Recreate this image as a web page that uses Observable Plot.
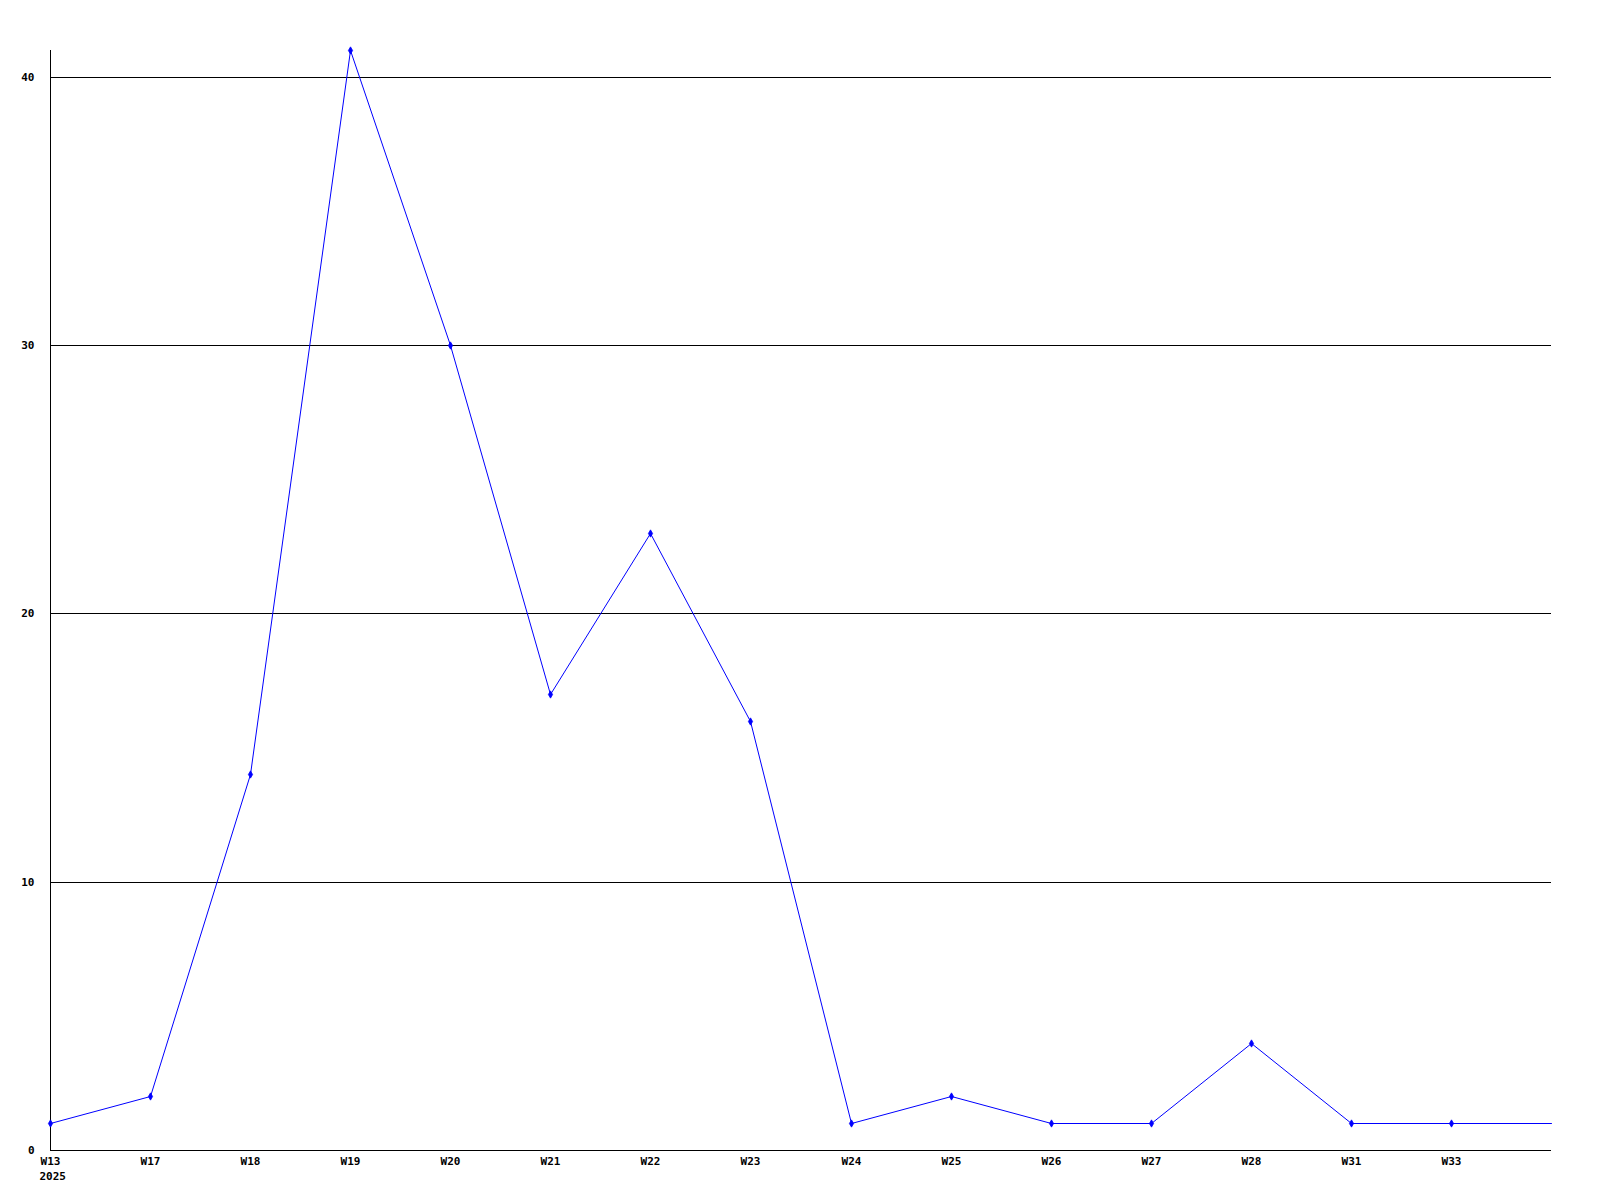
<!DOCTYPE html>
<html>
<head>
<meta charset="utf-8">
<script src="https://cdn.jsdelivr.net/npm/d3@7"></script>
<script src="https://cdn.jsdelivr.net/npm/@observablehq/plot@0.6"></script>
<style>
  html, body { margin: 0; padding: 0; background: #fff; }
</style>
</head>
<body>
<div id="chart"></div>
<script>
const weeks = ["W13", "W17", "W18", "W19", "W20", "W21", "W22", "W23", "W24", "W25", "W26", "W27", "W28", "W31", "W33", ""];
const counts = [1, 2, 14, 41, 30, 17, 23, 16, 1, 2, 1, 1, 4, 1, 1, 1];
const yearLabel = "2025";
const yTicks = [0, 10, 20, 30, 40];
const gridValues = [10, 20, 30, 40];

const data = weeks.map((w, i) => ({i, week: w, count: counts[i]}));
const marked = data.filter(d => d.week !== "");

const font = "'DejaVu Sans Mono', monospace";

const chart = Plot.plot({
  width: 1600,
  height: 1200,
  marginLeft: 50,
  marginRight: 49,
  marginTop: 50,
  marginBottom: 50,
  style: {fontFamily: font, fontSize: "11px", fontWeight: "bold", background: "#fff", color: "#000"},
  x: {type: "linear", domain: [0, weeks.length - 1], round: true},
  y: {domain: [0, 41], round: true},
  marks: [
    Plot.ruleY(gridValues, {stroke: "#000", strokeWidth: 1}),
    Plot.ruleY([0], {stroke: "#000", strokeWidth: 1}),
    Plot.ruleX([0], {stroke: "#000", strokeWidth: 1}),
    Plot.axisY({ticks: yTicks, tickSize: 0, tickPadding: 16, tickFormat: d => String(d), label: null, fontWeight: "bold"}),
    Plot.axisX({ticks: d3.range(weeks.length - 1), tickSize: 0, tickPadding: 7, tickFormat: i => weeks[i], label: null, fontWeight: "bold"}),
    Plot.text([yearLabel], {x: 0, y: 0, text: d => d, textAnchor: "start", dx: -11, dy: 26, fontWeight: "bold"}),
    Plot.line(data, {x: "i", y: "count", stroke: "#0000ff", strokeWidth: 1}),
    Plot.dot(marked, {x: "i", y: "count", symbol: "diamond", r: 2.2, fill: "#0000ff", stroke: "#0000ff", strokeWidth: 0.8})
  ]
});
document.getElementById("chart").appendChild(chart);
</script>
</body>
</html>
